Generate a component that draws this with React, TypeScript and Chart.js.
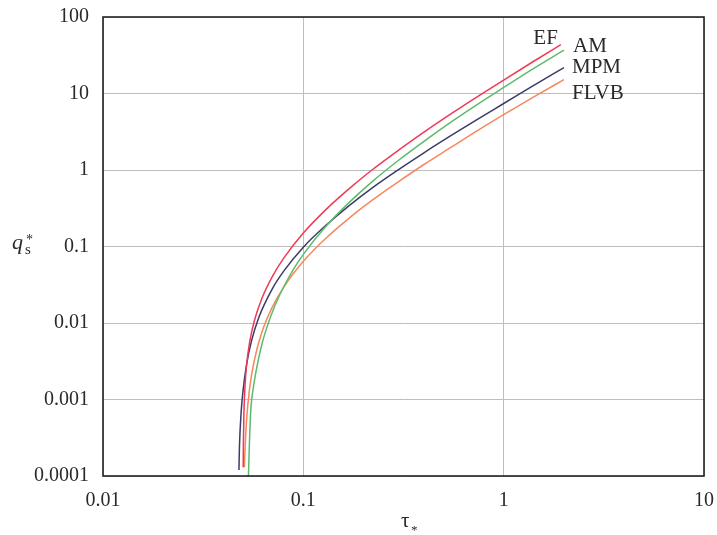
import React, { useEffect, useRef } from "react";
import { Chart, registerables } from "chart.js";

Chart.register(...registerables);

// ---- data ----
const seriesNames = ["EF", "AM", "MPM", "FLVB"];
const seriesColors = ["#ee3b55", "#5dbb6b", "#3b3b68", "#f7875c"];

const efTau = [0.0501, 0.0502, 0.0505, 0.051, 0.052, 0.054, 0.057, 0.062, 0.07, 0.08, 0.1, 0.13, 0.17, 0.22, 0.3, 0.4, 0.55, 0.75, 1.0, 1.4, 1.93];
const efQ = [0.00013, 0.00025, 0.00064, 0.0013, 0.0027, 0.0057, 0.0108, 0.0208, 0.0405, 0.071, 0.15, 0.306, 0.575, 1.0, 1.83, 3.12, 5.48, 9.3, 15.0, 26.0, 43.4];

const amTau = [0.0532, 0.054, 0.0548, 0.056, 0.058, 0.062, 0.066, 0.072, 0.08, 0.09, 0.1, 0.13, 0.17, 0.22, 0.3, 0.4, 0.55, 0.75, 1.0, 1.4, 2.0];
const amQ = [0.0001, 0.00035, 0.0008, 0.0013, 0.0023, 0.0052, 0.009, 0.0167, 0.03, 0.052, 0.079, 0.185, 0.38, 0.7, 1.35, 2.37, 4.3, 7.4, 12.0, 21.0, 37.0];

const mpmTau = [0.0477, 0.048, 0.049, 0.05, 0.052, 0.055, 0.06, 0.07, 0.08, 0.1, 0.13, 0.17, 0.22, 0.3, 0.4, 0.55, 0.75, 1.0, 1.4, 2.0];
const mpmQ = [0.00012, 0.00025, 0.00072, 0.0013, 0.0028, 0.0057, 0.0119, 0.028, 0.048, 0.098, 0.19, 0.345, 0.58, 1.02, 1.68, 2.85, 4.7, 7.4, 12.6, 21.8];

const flvbTau = [0.0508, 0.051, 0.052, 0.054, 0.057, 0.062, 0.07, 0.08, 0.1, 0.13, 0.17, 0.22, 0.3, 0.4, 0.55, 0.75, 1.0, 1.4, 2.0];
const flvbQ = [0.00013, 0.00018, 0.00051, 0.00144, 0.0033, 0.0075, 0.0161, 0.0296, 0.064, 0.129, 0.237, 0.4, 0.71, 1.18, 2.0, 3.34, 5.28, 8.9, 15.2];

const xTickValues = [0.01, 0.1, 1, 10];
const xTickLabels = ["0.01", "0.1", "1", "10"];
const yTickValues = [0.0001, 0.001, 0.01, 0.1, 1, 10, 100];
const yTickLabels = ["0.0001", "0.001", "0.01", "0.1", "1", "10", "100"];

const xTitle = "τ";
const xTitleSub = "*";
const yTitle = "q";
const yTitleSub = "s";
const yTitleSup = "*";

// label offsets relative to each series' last point (px)
const labelOffsets: Record<string, [number, number, CanvasTextAlign]> = {
  EF: [-3, -6, "right"],
  AM: [9, -4, "left"],
  MPM: [8, 0, "left"],
  FLVB: [8, 14, "left"],
};

const SERIF = "'Liberation Serif', 'DejaVu Serif', serif";
const TEXT_COLOR = "#2a2a2a";

function zip(xs: number[], ys: number[]) {
  return xs.map((x, i) => ({ x, y: ys[i] }));
}

export default function App() {
  const canvasRef = useRef<HTMLCanvasElement | null>(null);

  useEffect(() => {
    const canvas = canvasRef.current;
    if (!canvas) return;

    const overlay = {
      id: "overlay",
      afterDraw(chart: any) {
        const ctx = chart.ctx as CanvasRenderingContext2D;
        const area = chart.chartArea;
        ctx.save();
        // frame
        ctx.strokeStyle = "#222";
        ctx.lineWidth = 1.6;
        ctx.strokeRect(area.left, area.top, area.right - area.left, area.bottom - area.top);

        // series labels
        ctx.fillStyle = TEXT_COLOR;
        ctx.font = `21px ${SERIF}`;
        ctx.textBaseline = "middle";
        chart.data.datasets.forEach((ds: any, i: number) => {
          const meta = chart.getDatasetMeta(i);
          const last = meta.data[meta.data.length - 1];
          const off = labelOffsets[ds.label];
          if (!last || !off) return;
          ctx.textAlign = off[2];
          ctx.fillText(ds.label, last.x + off[0], last.y + off[1]);
        });

        // y title
        ctx.textAlign = "left";
        ctx.textBaseline = "alphabetic";
        ctx.font = `italic 22px ${SERIF}`;
        ctx.fillText(yTitle, 12, 249);
        ctx.font = `15px ${SERIF}`;
        ctx.fillText(yTitleSub, 25, 254);
        ctx.font = `14px ${SERIF}`;
        ctx.fillText(yTitleSup, 26, 244);

        // x title
        ctx.font = `21px ${SERIF}`;
        ctx.fillText(xTitle, 401, 527);
        ctx.font = `13px ${SERIF}`;
        ctx.textBaseline = "middle";
        ctx.fillText(xTitleSub, 411, 531);
        ctx.restore();
      },
    };

    const chart = new Chart(canvas, {
      type: "line",
      data: {
        datasets: [
          { label: seriesNames[0], data: zip(efTau, efQ), borderColor: seriesColors[0] },
          { label: seriesNames[1], data: zip(amTau, amQ), borderColor: seriesColors[1] },
          { label: seriesNames[2], data: zip(mpmTau, mpmQ), borderColor: seriesColors[2] },
          { label: seriesNames[3], data: zip(flvbTau, flvbQ), borderColor: seriesColors[3] },
        ].map((d) => ({
          ...d,
          borderWidth: 1.5,
          pointRadius: 0,
          fill: false,
          cubicInterpolationMode: "monotone" as const,
        })),
      },
      options: {
        animation: false,
        responsive: false,
        maintainAspectRatio: false,
        layout: { padding: { left: 0, right: 13, top: 17, bottom: 0 } },
        plugins: { legend: { display: false }, tooltip: { enabled: false } },
        scales: {
          x: {
            type: "logarithmic",
            min: 0.01,
            max: 10,
            afterBuildTicks(scale: any) {
              scale.ticks = xTickValues.map((v) => ({ value: v }));
            },
            afterFit(scale: any) {
              scale.height = 59;
              scale.paddingLeft = 0;
              scale.paddingRight = 0;
              scale.paddingTop = 0;
              scale.paddingBottom = 0;
            },
            ticks: {
              autoSkip: false,
              maxRotation: 0,
              padding: 13,
              color: TEXT_COLOR,
              font: { family: SERIF, size: 20 },
              callback: (v: any) => {
                const i = xTickValues.findIndex((t) => Math.abs(t - v) / t < 1e-6);
                return i >= 0 ? xTickLabels[i] : "";
              },
            },
            grid: { color: "#bdbdbd", lineWidth: 1, drawTicks: false },
            border: { display: false },
          },
          y: {
            type: "logarithmic",
            min: 0.0001,
            max: 100,
            afterBuildTicks(scale: any) {
              scale.ticks = yTickValues.map((v) => ({ value: v }));
            },
            afterFit(scale: any) {
              scale.width = 103;
              scale.paddingLeft = 0;
              scale.paddingRight = 0;
              scale.paddingTop = 0;
              scale.paddingBottom = 0;
            },
            ticks: {
              autoSkip: false,
              padding: 14,
              color: TEXT_COLOR,
              font: { family: SERIF, size: 20 },
              callback: (v: any) => {
                const i = yTickValues.findIndex((t) => Math.abs(t - v) / t < 1e-6);
                return i >= 0 ? yTickLabels[i] : "";
              },
            },
            grid: { color: "#bdbdbd", lineWidth: 1, drawTicks: false },
            border: { display: false },
          },
        },
      },
      plugins: [overlay],
    });

    return () => chart.destroy();
  }, []);

  return (
    <div style={{ position: "absolute", left: 0, top: 0, width: 717, height: 535, background: "#fff" }}>
      <canvas ref={canvasRef} width={717} height={535} style={{ display: "block" }} />
    </div>
  );
}
